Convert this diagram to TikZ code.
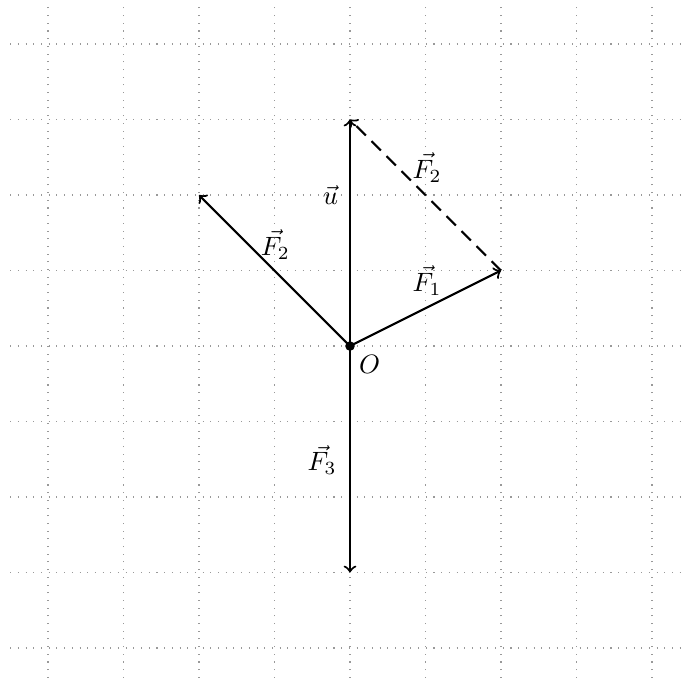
\documentclass[tikz,border=0pt]{standalone}
\begin{document}
\begin{tikzpicture}[x=1cm,y=1cm,
  vec/.style={->,thick},
  gridline/.style={gray!80,line width=0.4pt,dash pattern=on 0.4pt off 2.5pt},
  lbl/.style={inner sep=1pt}]
\useasboundingbox (-4.636,-4.49) rectangle (4.437,4.583);
\clip (-4.636,-4.49) rectangle (4.437,4.583);
\draw[gridline] (-4.5,-4.6) grid (4.6,4.5);
\coordinate (O) at (0,0);
\coordinate (A) at (2,1);
\coordinate (B) at (-2,2);
\coordinate (U) at (0,3);
\coordinate (D) at (0,-3);
\draw[vec] (O) -- (A);
\draw[vec] (O) -- (B);
\draw[vec] (O) -- (U);
\draw[vec] (O) -- (D);
\draw[vec,dash pattern=on 5pt off 3pt] (A) -- (U);
\fill (O) circle (1.8pt);
\node[lbl] (lO) at (0.26,-0.25) {$O$};
\node[lbl] (lF1) at (1.02,0.87) {$\vec{F_1}$};
\node[lbl] (lF2) at (-0.99,1.34) {$\vec{F_2}$};
\node[lbl] (lF2b) at (1.02,2.36) {$\vec{F_2}$};
\node[lbl] (lu) at (-0.26,2.0) {$\vec{u}$};
\node[lbl] (lF3) at (-0.37,-1.51) {$\vec{F_3}$};
\end{tikzpicture}
\end{document}
